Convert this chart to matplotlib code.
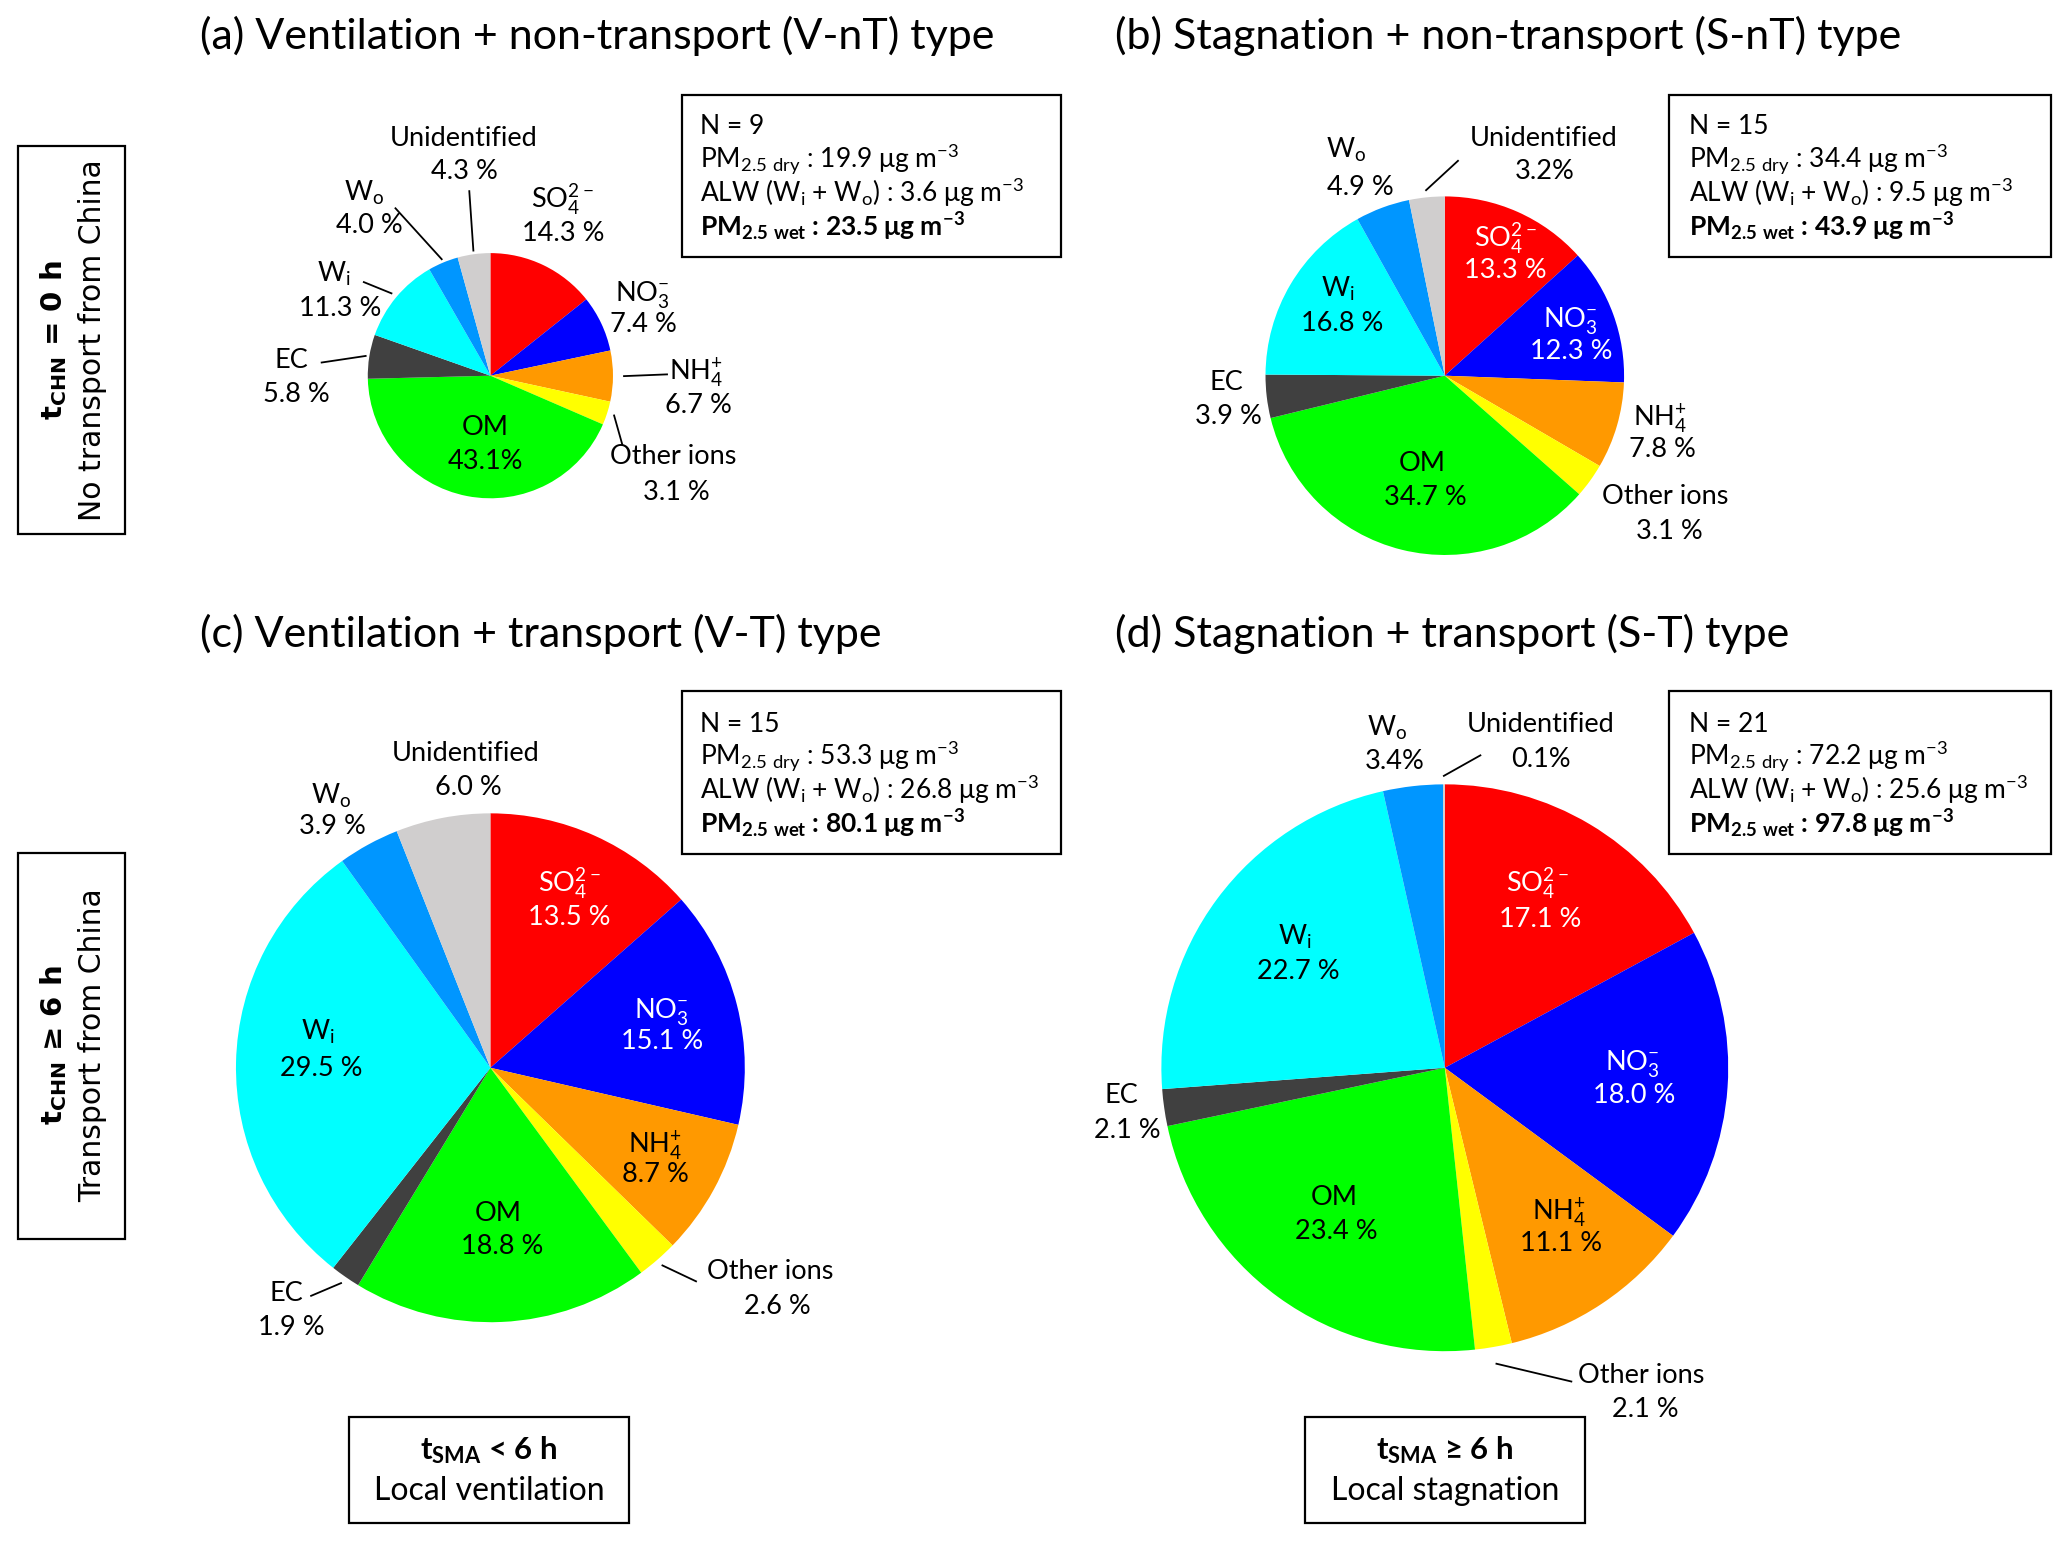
import numpy as np
import matplotlib
matplotlib.use("Agg")
import matplotlib.pyplot as plt
from matplotlib.patches import Rectangle

plt.rcParams['font.family'] = ['Lato', 'DejaVu Sans']
plt.rcParams['mathtext.default'] = 'regular'

# ---------------- data ----------------
categories = ['SO4', 'NO3', 'NH4', 'Other ions', 'OM', 'EC', 'Wi', 'Wo', 'Unidentified']
cat_labels = ['SO$_4^{2-}$', 'NO$_3^{-}$', 'NH$_4^{+}$', 'Other ions', 'OM', 'EC',
              'W$_i$', 'W$_o$', 'Unidentified']
colors = ['#FF0000', '#0000FF', '#FF9900', '#FFFF00', '#00FF00', '#404040',
          '#00FFFF', '#0096FF', '#D0CECE']

values_a = [14.3, 7.4, 6.7, 3.1, 43.1, 5.8, 11.3, 4.0, 4.3]
values_b = [13.3, 12.3, 7.8, 3.1, 34.7, 3.9, 16.8, 4.9, 3.2]
values_c = [13.5, 15.1, 8.7, 2.6, 18.8, 1.9, 29.5, 3.9, 6.0]
values_d = [17.1, 18.0, 11.1, 2.1, 23.4, 2.1, 22.7, 3.4, 0.1]

titles = ['(a) Ventilation + non-transport (V-nT) type',
          '(b) Stagnation + non-transport (S-nT) type',
          '(c) Ventilation + transport (V-T) type',
          '(d) Stagnation + transport (S-T) type']
n_samples = [9, 15, 15, 21]
pm_dry = [19.9, 34.4, 53.3, 72.2]
alw = [3.6, 9.5, 26.8, 25.6]
pm_wet = [23.5, 43.9, 80.1, 97.8]

row_labels = [('t$_{CHN}$ = 0 h', 'No transport from China'),
              ('t$_{CHN}$ ≥ 6 h', 'Transport from China')]
col_labels = [('t$_{SMA}$ < 6 h', 'Local ventilation'),
              ('t$_{SMA}$ ≥ 6 h', 'Local stagnation')]

# ---------------- layout (reference pixel space, y downward) ----------------
W = 1568.0
H = W * 1543 / 2067


def P(x, y):
    return (x, H - y)


fig = plt.figure(figsize=(20.67, 15.43), dpi=100)
ax = fig.add_axes([0, 0, 1, 1])

panels = [
    dict(vals=values_a, c=(372, 285), r=93, title=(152, 27), box=(517, 72, 805, 195), tx=531, ty=[95, 120, 146, 172],
         lab={'SO4': (427, 151, 427, 176), 'NO3': (487, 221, 488, 245), 'NH4': (528, 281, 530, 306),
              'Other ions': (511, 345, 513, 372), 'OM': (368, 323, 368, 349), 'EC': (221, 272, 225, 298),
              'Wi': (253, 207, 258, 233), 'Wo': (276, 145, 280, 170), 'Unidentified': (352, 104, 352, 129)},
         lead={'NH4': ((506, 284), 1.09), 'Other ions': ((472, 337), 1.06), 'EC': ((244, 275), 1.03),
               'Wi': ((276, 214), 1.05), 'Wo': ((300, 158), 1.03), 'Unidentified': ((356, 145), 1.03)},
         white=[], nospace=['OM']),
    dict(vals=values_b, c=(1096, 285), r=136, title=(846, 27), box=(1266, 72, 1556, 195), tx=1281, ty=[95, 120, 146, 172],
         lab={'SO4': (1142, 180, 1142, 204), 'NO3': (1191, 241, 1192, 265), 'NH4': (1259, 316, 1261, 340),
              'Other ions': (1263, 375, 1266, 402), 'OM': (1079, 350, 1081, 376), 'EC': (930, 289, 932, 315),
              'Wi': (1015, 218, 1018, 244), 'Wo': (1021, 113, 1032, 141), 'Unidentified': (1171, 104, 1172, 129)},
         lead={'Unidentified': ((1106, 122), 1.04)},
         white=['SO4', 'NO3'], nospace=['Unidentified']),
    dict(vals=values_c, c=(372, 810), r=193, title=(152, 481), box=(517, 524, 805, 648), tx=531, ty=[548, 573, 599, 625],
         lab={'SO4': (432, 670, 432, 695), 'NO3': (502, 765, 502, 789), 'NH4': (497, 867, 497, 890),
              'Other ions': (584, 963, 590, 990), 'OM': (378, 919, 381, 944), 'EC': (217, 980, 221, 1006),
              'Wi': (241, 782, 244, 809), 'Wo': (251, 603, 252, 626), 'Unidentified': (353, 570, 355, 596)},
         lead={'Other ions': ((528, 972), 1.03), 'EC': ((236, 983), 1.03)},
         white=['SO4', 'NO3'], nospace=[]),
    dict(vals=values_d, c=(1096, 810), r=215, title=(846, 481), box=(1266, 524, 1556, 648), tx=1281, ty=[548, 573, 599, 625],
         lab={'SO4': (1166, 670, 1168, 696), 'NO3': (1238, 805, 1240, 830), 'NH4': (1183, 918, 1184, 942),
              'Other ions': (1245, 1042, 1248, 1068), 'OM': (1012, 907, 1014, 933), 'EC': (851, 830, 855, 856),
              'Wi': (982, 710, 985, 736), 'Wo': (1052, 551, 1058, 576), 'Unidentified': (1169, 548, 1169, 575)},
         lead={'Unidentified': ((1123, 573), 1.03), 'Other ions': ((1192, 1048), 1.06)},
         white=['SO4', 'NO3'], nospace=['Wo', 'Unidentified']),
]

LFS = 19.5   # label font size
BASE = 7     # center -> baseline offset (ref px)

for i, p in enumerate(panels):
    vals = p['vals']
    cx, cy = P(*p['c'])
    ax.pie(vals, colors=colors, startangle=90, counterclock=False, center=(cx, cy), radius=p['r'],
           wedgeprops=dict(linewidth=0))
    # wedge mid angles (clockwise from top)
    frac = np.array(vals) / np.sum(vals)
    cum = np.cumsum(frac) - frac / 2
    for k, cat in enumerate(categories):
        nx, ny, px_, py_ = p['lab'][cat]
        col = 'white' if cat in p['white'] else 'black'
        ax.text(*P(nx, ny + BASE), cat_labels[k], ha='center', va='baseline', fontsize=LFS, color=col)
        sep = '' if cat in p['nospace'] else ' '
        ax.text(*P(px_, py_ + BASE), f'{vals[k]:.1f}{sep}%', ha='center', va='baseline', fontsize=LFS, color=col)
        if cat in p['lead']:
            (ex, ey), sf = p['lead'][cat]
            th = 2 * np.pi * cum[k]
            sx = cx + p['r'] * sf * np.sin(th)
            sy = cy + p['r'] * sf * np.cos(th)
            ex2, ey2 = P(ex, ey)
            ax.plot([sx, ex2], [sy, ey2], color='black', lw=1.3)
    # title
    ax.text(*P(p['title'][0], p['title'][1]), titles[i], ha='left', va='center', fontsize=31)
    # info box
    x0, y0, x1, y1 = p['box']
    ax.add_patch(Rectangle(P(x0, y1), x1 - x0, y1 - y0, fill=False, lw=1.6, ec='black'))
    lines = [f'N = {n_samples[i]}',
             f'PM$_{{2.5\\ dry}}$ : {pm_dry[i]:.1f} μg m$^{{-3}}$',
             f'ALW (W$_i$ + W$_o$) : {alw[i]:.1f} μg m$^{{-3}}$',
             f'PM$_{{2.5\\ wet}}$ : {pm_wet[i]:.1f} μg m$^{{-3}}$']
    for j, t in enumerate(lines):
        ax.text(*P(p['tx'], p['ty'][j] + BASE), t, ha='left', va='baseline', fontsize=19,
                fontweight='bold' if j == 3 else 'normal')

# row label boxes (left, rotated)
for j, (yc, (bl, nl)) in enumerate(zip([258, 793], row_labels)):
    y_top, y_bot = [(111, 405), (647, 940)][j]
    ax.add_patch(Rectangle(P(14, y_bot), 81, y_bot - y_top, fill=False, lw=1.6, ec='black'))
    ax.text(*P(41, yc), bl, rotation=90, ha='center', va='center', fontsize=21,
            fontweight='bold', family='DejaVu Sans')
    ax.text(*P(70, yc), nl, rotation=90, ha='center', va='center', fontsize=21.5, family='DejaVu Sans')

# column label boxes (bottom)
for j, (xc, (bl, nl)) in enumerate(zip([371, 1096], col_labels)):
    ax.add_patch(Rectangle(P(xc - 106, 1155), 212, 80, fill=False, lw=1.6, ec='black'))
    ax.text(*P(xc, 1100), bl, ha='center', va='center', fontsize=22.5, fontweight='bold')
    ax.text(*P(xc, 1131), nl, ha='center', va='center', fontsize=23)

ax.set_xlim(0, W)
ax.set_ylim(0, H)
ax.set_aspect('equal')
ax.axis('off')

fig.savefig('out.png', dpi=100, facecolor='white')
